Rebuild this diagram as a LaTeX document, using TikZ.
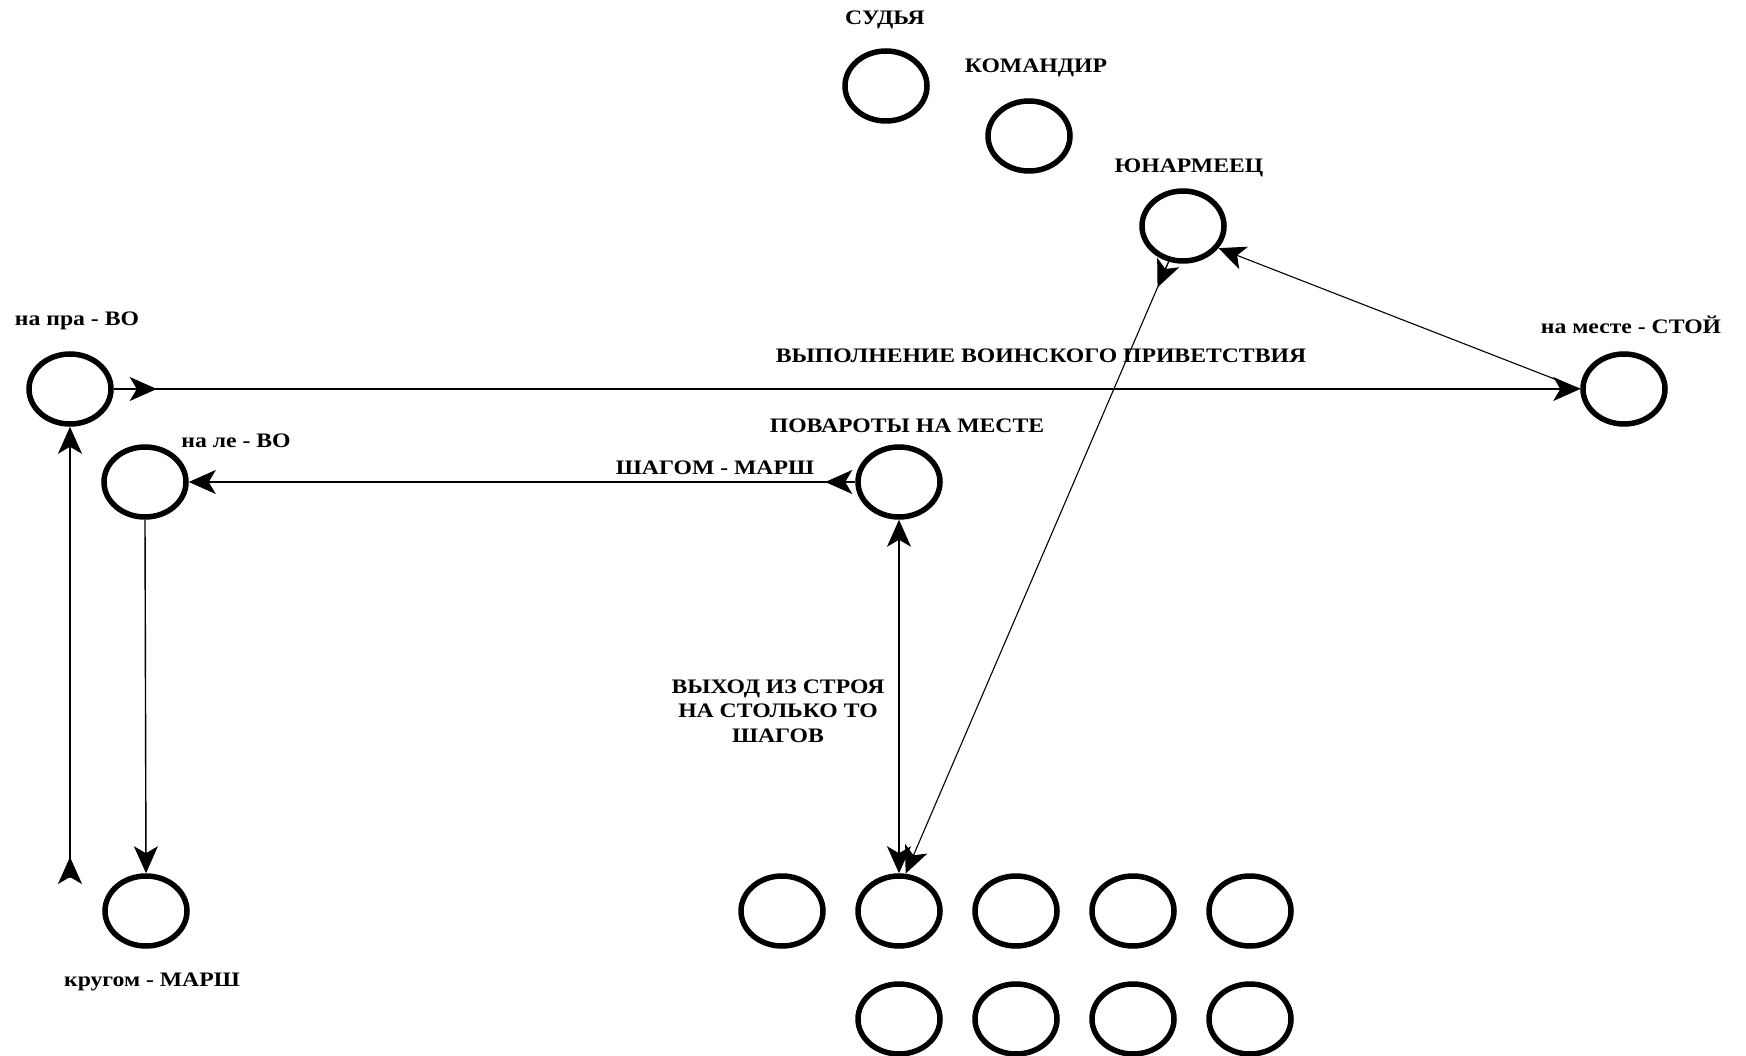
\documentclass[tikz,border=0pt]{standalone}
\usepackage{fontspec}
\setmainfont{Liberation Serif}[FakeStretch=1.15]
\usetikzlibrary{arrows.meta,shapes.geometric,calc}

\begin{document}
\begin{tikzpicture}[x=1pt,y=-1pt,
  man/.style={draw,ellipse,line width=5.5pt,minimum width=82pt,minimum height=70pt,inner sep=0pt},
  txt/.style={font=\fontsize{20.6}{24.5}\selectfont\bfseries,inner sep=0pt,anchor=base},
  line/.style={line width=1.4pt},
  thin line/.style={line width=1.1pt},
  >={Stealth[length=27pt,width=24pt,inset=7pt]}]
\useasboundingbox (0,0) rectangle (1746,1056);

% top
\node[man] (sudja) at (886,86) {};
\node[man] (komandir) at (1029,136) {};
\node[man] (yun) at (1183,226) {};
\node[txt] (Tsudja) at (885,25) {СУДЬЯ};
\node[txt] (Tkomandir) at (1036,73) {КОМАНДИР};
\node[txt] (Tyun) at (1189,173) {ЮНАРМЕЕЦ};

% left and right
\node[man] (napra) at (70,389) {};
\node[man] (nale) at (145,482) {};
\node[man] (krug) at (146,911) {};
\node[man] (namest) at (1624,389) {};
\node[man] (povor) at (899,482) {};
\node[txt] (Tnapra) at (77,326) {на пра - ВО};
\node[txt] (Tnale) at (236,448) {на ле - ВО};
\node[txt] (Tkrug) at (152,986) {кругом - МАРШ};
\node[txt] (Tnamest) at (1631,334) {на месте - СТОЙ};
\node[txt] (Tvyp) at (1041,363) {ВЫПОЛНЕНИЕ ВОИНСКОГО ПРИВЕТСТВИЯ};
\node[txt] (Tpovor) at (907,432) {ПОВАРОТЫ НА МЕСТЕ};
\node[txt] (Tshag) at (715,475) {ШАГОМ - МАРШ};
\node[txt,align=center,anchor=center] (Tvyh) at (778,711) {ВЫХОД ИЗ СТРОЯ\\НА СТОЛЬКО ТО\\ШАГОВ};

% строй
\foreach \i in {1,...,5}
  \node[man] (a\i) at ({665+117*\i},911) {};
\foreach \i in {2,...,5}
  \node[man] (b\i) at ({665+117*\i},1019) {};

\coordinate (niz) at (70,877);

\draw[line,->] (napra.east) -- (namest.west);
\draw[line,->] (napra.east) -- ++(43,0);
\draw[line,->] (povor.west) -- (nale.east);
\draw[line,->] (povor.west) -- ++(-30,0);
\draw[line,->] (nale.south) -- (krug.north);
\draw[line,->] (niz) -- (napra.south);
\draw[line,->] (niz) -- ++(0,-20);
\draw[line,<->] (a2.north) -- (povor.south);
\draw[thin line,->] (yun.-112) -- (a2.80);
\draw[thin line,->] (yun.-112) -- ($(yun.-112)!28pt!(a2.80)$);
\draw[thin line,->] (namest.west) -- (yun.-32);

\end{tikzpicture}
\end{document}
